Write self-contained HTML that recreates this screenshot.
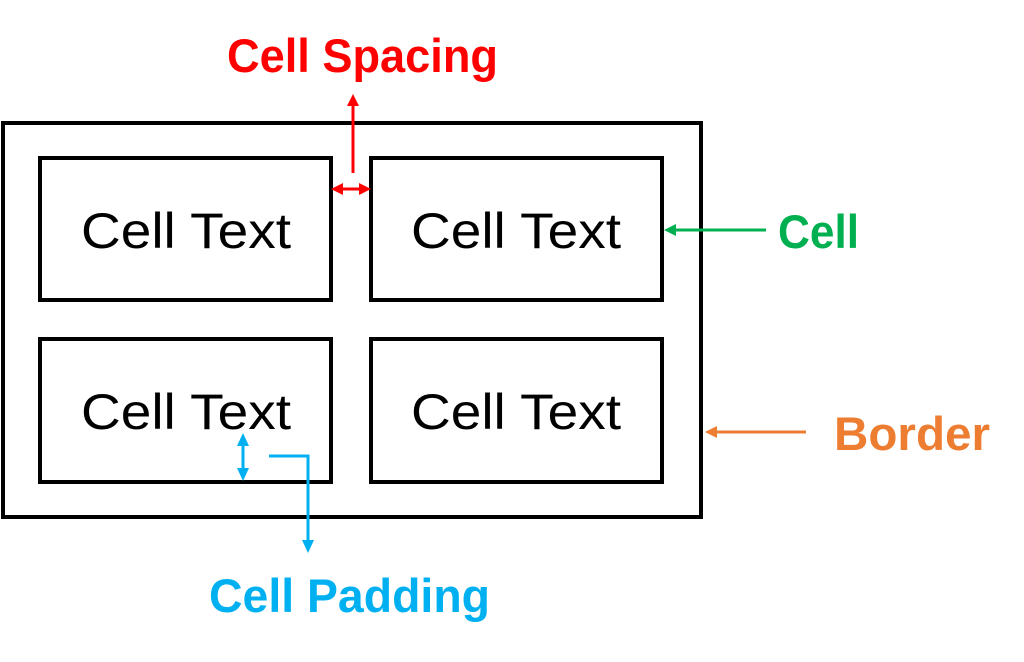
<!DOCTYPE html>
<html><head><meta charset="utf-8"><style>
html,body{margin:0;padding:0;background:#fff;}
svg{display:block;}
</style></head><body>
<svg width="1024" height="662" viewBox="0 0 1024 662" xmlns="http://www.w3.org/2000/svg" font-family="'Liberation Sans', sans-serif">
<rect x="3" y="123" width="698" height="394" fill="none" stroke="#000" stroke-width="4"/>
<g fill="none" stroke="#000" stroke-width="4">
<rect x="40" y="158" width="291" height="142"/>
<rect x="371" y="158" width="291" height="142"/>
<rect x="40" y="339" width="291" height="143"/>
<rect x="371" y="339" width="291" height="143"/>
</g>
<g font-size="50" fill="#000" text-anchor="middle">
<text x="186" y="248" textLength="210" lengthAdjust="spacingAndGlyphs">Cell Text</text>
<text x="516" y="248" textLength="210" lengthAdjust="spacingAndGlyphs">Cell Text</text>
<text x="186" y="429" textLength="210" lengthAdjust="spacingAndGlyphs">Cell Text</text>
<text x="516" y="429" textLength="210" lengthAdjust="spacingAndGlyphs">Cell Text</text>
</g>
<g stroke="#ff0000" stroke-width="3" fill="#ff0000">
<line x1="353" y1="173" x2="353" y2="104"/>
<polygon points="353,94 347,106 359,106" stroke="none"/>
<line x1="341" y1="189" x2="361" y2="189"/>
<polygon points="331,189 343,183 343,195" stroke="none"/>
<polygon points="371,189 359,183 359,195" stroke="none"/>
</g>
<text x="227" y="72" font-size="47" font-weight="bold" fill="#ff0000" textLength="271" lengthAdjust="spacingAndGlyphs">Cell Spacing</text>
<g stroke="#00b050" stroke-width="3" fill="#00b050">
<line x1="674" y1="230" x2="766" y2="230"/>
<polygon points="664,230 676,224 676,236" stroke="none"/>
</g>
<text x="778" y="248" font-size="47" font-weight="bold" fill="#00b050" textLength="81" lengthAdjust="spacingAndGlyphs">Cell</text>
<g stroke="#ed7d31" stroke-width="3" fill="#ed7d31">
<line x1="715" y1="432" x2="806" y2="432"/>
<polygon points="705,432 717,426 717,438" stroke="none"/>
</g>
<text x="834" y="450" font-size="47" font-weight="bold" fill="#ed7d31" textLength="156" lengthAdjust="spacingAndGlyphs">Border</text>
<g stroke="#00b0f0" stroke-width="3" fill="#00b0f0">
<line x1="243" y1="443" x2="243" y2="470"/>
<polygon points="243,433 237,446 249,446" stroke="none"/>
<polygon points="243,481 237,468 249,468" stroke="none"/>
<polyline points="269,456 308,456 308,542" fill="none"/>
<polygon points="308,553 302,540 314,540" stroke="none"/>
</g>
<text x="209" y="612" font-size="47" font-weight="bold" fill="#00b0f0" textLength="281" lengthAdjust="spacingAndGlyphs">Cell Padding</text>
</svg>
</body></html>
